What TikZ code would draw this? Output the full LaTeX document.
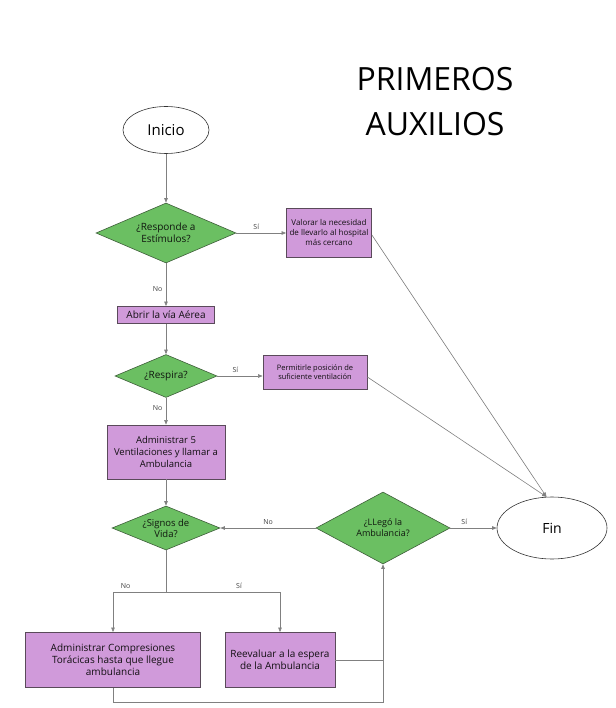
\documentclass[tikz,border=0pt]{standalone}
\usepackage{fontspec}
\setmainfont{Open Sans}
\usepackage{tikz}
\usetikzlibrary{arrows.meta, shapes.geometric, calc, positioning}
\definecolor{boxfill}{HTML}{D09ADA}
\definecolor{boxline}{HTML}{5A4A5A}
\definecolor{decfill}{HTML}{6BBF62}
\definecolor{decline}{HTML}{3E5E3A}
\definecolor{linkgray}{HTML}{808080}
\tikzset{
  terminal/.style={ellipse, draw=black!80, line width=0.6pt, fill=white, inner sep=0pt},
  decision/.style={diamond, draw=decline, line width=0.6pt, fill=decfill, inner sep=0pt,
    align=center, text=black!75!decline},
  process/.style={rectangle, draw=boxline, line width=0.8pt, fill=boxfill, inner sep=1pt,
    align=center, text=black!80!boxline},
  link/.style={draw=linkgray, line width=0.6pt, -{Triangle[length=4.5pt,width=3.5pt]}},
  edgelab/.style={font=\fontsize{7}{8}\selectfont, text=black!75}
}

\begin{document}
\begin{tikzpicture}[x=1pt, y=-1pt]
\useasboundingbox (0,0) rectangle (615,708);
\node[align=center, font=\fontsize{32}{45}\selectfont] (title) at (435,102) {PRIMEROS\\AUXILIOS};

\node[terminal, minimum width=86pt, minimum height=47pt, font=\fontsize{15}{18}\selectfont] (ini) at (166,130) {Inicio};
\node[decision, minimum width=140pt, minimum height=60pt, shape aspect=2.33, font=\fontsize{10}{12}\selectfont] (d1) at (166,233) {¿Responde a\\Estímulos?};
\node[process, minimum width=85pt, minimum height=49pt, font=\fontsize{8}{10}\selectfont] (b1) at (329,233) {Valorar la necesidad\\de llevarlo al hospital\\más cercano};
\node[process, minimum width=97pt, minimum height=17pt, font=\fontsize{10}{12}\selectfont] (b2) at (166,315) {Abrir la vía Aérea};
\node[decision, minimum width=102pt, minimum height=43pt, shape aspect=2.37, font=\fontsize{10}{12}\selectfont] (d2) at (166,376) {¿Respira?};
\node[process, minimum width=104pt, minimum height=34pt, font=\fontsize{7.5}{9.5}\selectfont] (b3) at (315,372) {Permitirle posición de\\suficiente ventilación};
\node[process, minimum width=118pt, minimum height=54pt, font=\fontsize{9.5}{12}\selectfont] (b4) at (166,452) {Administrar 5\\Ventilaciones y llamar a\\Ambulancia};
\node[decision, minimum width=108pt, minimum height=44pt, shape aspect=2.45, font=\fontsize{9.5}{11}\selectfont] (d3) at (166,528) {¿Signos de\\Vida?};
\node[decision, minimum width=134pt, minimum height=72pt, shape aspect=1.86, font=\fontsize{9}{11}\selectfont] (d4) at (383,528) {¿LLegó la\\Ambulancia?};
\node[terminal, minimum width=110pt, minimum height=62pt, font=\fontsize{14}{17}\selectfont] (fin) at (552,528) {Fin};
\node[process, minimum width=175pt, minimum height=55pt, font=\fontsize{10}{12}\selectfont] (b5) at (113,660) {Administrar Compresiones\\Torácicas hasta que llegue\\ambulancia};
\node[process, minimum width=110pt, minimum height=55pt, font=\fontsize{10}{12}\selectfont] (b6) at (280,660) {Reevaluar a la espera\\de la Ambulancia};

\coordinate (split) at (166,592);
\coordinate (join) at (b6.east -| d4.south);
\coordinate (low) at (383,702);

\draw[link] (ini) -- (d1);
\draw[link] (d1) -- node[edgelab, above, pos=.4] {Sí} (b1);
\draw[link] (d1) -- node[edgelab, left, pos=.6] {No} (b2);
\draw[link] (b2) -- (d2);
\draw[link] (d2.east) -- node[edgelab, above, pos=.4] {Sí} (d2.east -| b3.west);
\draw[link] (d2) -- node[edgelab, left, pos=.4] {No} (b4);
\draw[link] (b4) -- (d3);
\draw[link] (d4) -- node[edgelab, above, pos=.5] {No} (d3);
\draw[link] (d4) -- node[edgelab, above, pos=.3] {Sí} (fin);
\draw[link] ($(b1.east)+(0,2)$) -- (fin.100);
\draw[link] ($(b3.east)+(0,5)$) -- (fin.100);
\draw[draw=linkgray, line width=0.6pt] (d3) -- (split);
\draw[link] (split) -| node[edgelab, above, pos=.38] {No} (b5);
\draw[link] (split) -| node[edgelab, above, pos=.32] {Sí} (b6);
\draw[link] (b6.east) -| (d4.south);
\draw[draw=linkgray, line width=0.6pt] (b5.south) |- (low) -- (join);
\end{tikzpicture}
\end{document}
